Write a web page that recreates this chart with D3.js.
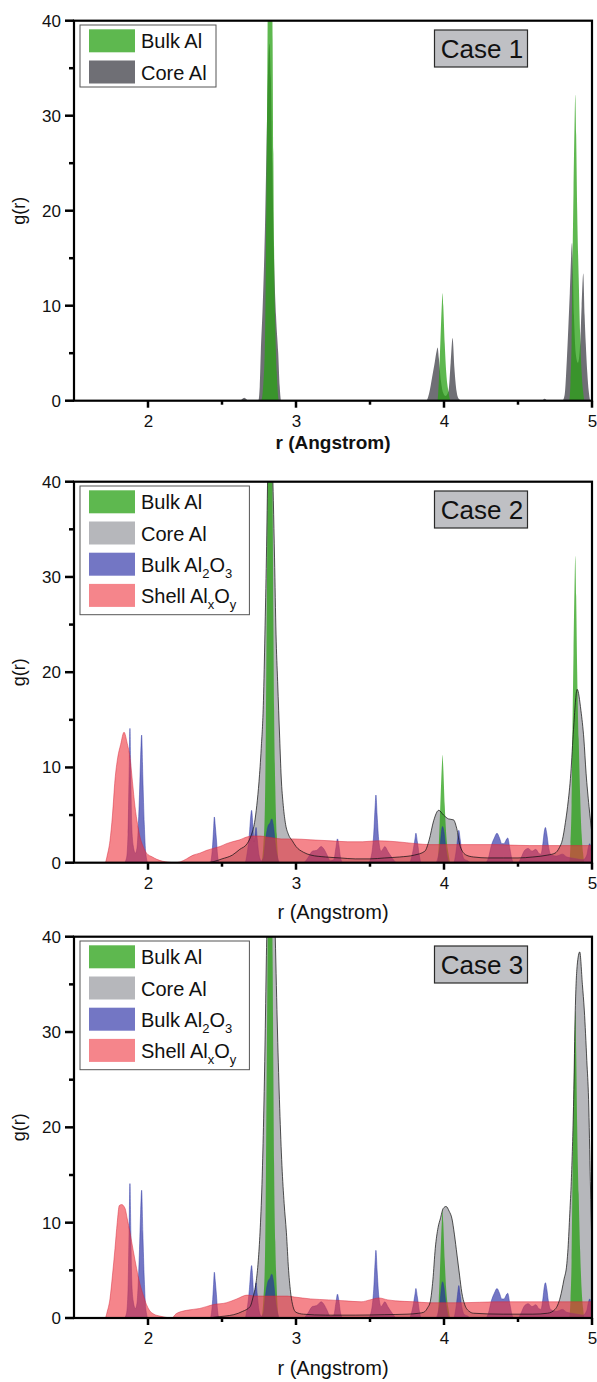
<!DOCTYPE html>
<html><head><meta charset="utf-8">
<script src="https://cdn.jsdelivr.net/npm/d3@7"></script>
<style>
html,body{margin:0;padding:0;background:#fff;}
svg{display:block;font-family:"Liberation Sans",Arial,Helvetica,sans-serif;}
</style></head><body>
<svg id="chart" width="597" height="1382"></svg>
<script>
// ---------------- data ----------------
const xDomain = [1.5, 5];
const yDomain = [0, 40];
const xTicks = [2, 3, 4, 5];
const xMinorTicks = [2.5, 3.5, 4.5];
const yTicks = [0, 10, 20, 30, 40];
const yMinorTicks = [5, 15, 25, 35];
const caseLabels = ["Case 1", "Case 2", "Case 3"];
const xTitle = "r (Angstrom)";
const yTitle = "g(r)";
const legendLabels = [
  [["Bulk Al", 0]],
  [["Core Al", 0]],
  [["Bulk Al", 0], ["2", 1], ["O", 0], ["3", 1]],
  [["Shell Al", 0], ["x", 1], ["O", 0], ["y", 1]]
];

// Bulk Al (same reference in all three cases)
const bulkAl = [[1.5,0],[2.765,0],[2.78,2],[2.79,6],[2.795,12],[2.8,22],[2.805,32],[2.81,44],[2.816,55],[2.822,60],[2.83,55],[2.836,46],[2.842,38],[2.847,26],[2.852,16],[2.86,8],[2.87,3],[2.885,0],
  [3.955,0],[3.965,2],[3.975,6],[3.985,10],[3.99,11.3],[3.995,10],[4.005,6],[4.015,3],[4.03,1],[4.045,0],
  [4.845,0],[4.855,2],[4.862,6],[4.868,14],[4.875,22],[4.882,29],[4.887,32.2],[4.893,28],[4.9,20],[4.91,13],[4.92,7],[4.93,3],[4.94,1],[4.95,0],[5,0]];

// Core Al, case 1
const coreAl1 = [[1.5,0],[2.62,0],[2.65,0.3],[2.68,0],[2.745,0],[2.755,1.5],[2.762,5],[2.775,10],[2.79,18],[2.8,26],[2.81,34],[2.82,37.6],[2.83,34],[2.84,25],[2.85,16],[2.865,9],[2.88,5],[2.89,1.5],[2.9,0],
  [3.88,0],[3.9,0.8],[3.92,2.5],[3.935,3.8],[3.95,5.2],[3.957,5.6],[3.965,4.5],[3.98,2],[3.995,0.8],[4.01,0.5],[4.03,1],[4.045,4],[4.058,6.6],[4.07,3.5],[4.085,1],[4.1,0.2],[4.12,0],
  [4.66,0],[4.68,0.2],[4.7,0],[4.8,0],[4.815,0.6],[4.83,4.3],[4.85,11.3],[4.865,16.6],[4.878,9],[4.89,5],[4.905,4],[4.92,6],[4.93,10],[4.941,13.4],[4.95,9],[4.958,6],[4.968,3],[4.978,1],[4.99,0],[5,0]];

// Core Al, case 2
const coreAl2 = [[1.5,0],[2.4,0],[2.44,0.1],[2.5,0.4],[2.57,0.8],[2.62,1.4],[2.67,2.0],[2.7,3],[2.72,4.2],[2.735,6],[2.75,8.5],[2.765,12],[2.78,17],[2.79,24],[2.8,32],[2.81,42],[2.822,52],[2.835,45],[2.847,38],[2.855,32],[2.865,24],[2.876,19],[2.89,13],[2.9,9],[2.914,6],[2.93,4],[2.948,3],[2.975,2.3],[3.0,1.7],[3.05,1.1],[3.1,0.8],[3.2,0.6],[3.3,0.5],[3.4,0.4],[3.5,0.4],[3.6,0.5],[3.7,0.6],[3.8,0.8],[3.87,1.2],[3.9,2.4],[3.93,4.4],[3.964,5.5],[3.997,5.0],[4.03,4.6],[4.064,4.5],[4.086,3.6],[4.11,1.7],[4.15,0.8],[4.2,0.6],[4.3,0.5],[4.4,0.5],[4.5,0.5],[4.6,0.6],[4.7,0.8],[4.75,1.0],[4.78,1.6],[4.8,2.4],[4.82,4.2],[4.835,5.9],[4.857,9.4],[4.875,14],[4.9,18.2],[4.925,16],[4.945,13],[4.96,9.4],[4.98,5.9],[5.0,3]];

// Core Al, case 3
const coreAl3 = [[1.5,0],[2.4,0],[2.46,0.1],[2.52,0.2],[2.58,0.35],[2.64,0.7],[2.69,1.2],[2.71,2.2],[2.73,3.7],[2.745,6],[2.757,9],[2.77,14],[2.78,20],[2.79,28],[2.8,38],[2.815,50],[2.83,55],[2.845,50],[2.86,40],[2.875,30],[2.89,22],[2.905,16],[2.92,12],[2.935,9],[2.95,5],[2.965,2.5],[2.98,1.2],[3.0,0.6],[3.05,0.4],[3.2,0.3],[3.4,0.3],[3.6,0.35],[3.75,0.4],[3.83,0.5],[3.863,0.6],[3.89,1.1],[3.907,1.7],[3.925,4],[3.941,7.3],[3.96,9.5],[3.975,10.4],[3.995,11.5],[4.014,11.7],[4.035,11.2],[4.054,10.4],[4.07,8.8],[4.088,6.6],[4.105,4.5],[4.12,2.7],[4.14,1.4],[4.17,0.7],[4.2,0.5],[4.4,0.4],[4.6,0.4],[4.7,0.5],[4.75,0.9],[4.786,2.2],[4.81,4],[4.83,5.7],[4.838,7.3],[4.85,11],[4.86,14.3],[4.876,22.9],[4.887,32.3],[4.9,37],[4.917,38.4],[4.935,35],[4.948,32.3],[4.965,27],[4.977,22.9],[4.989,14.3],[5.0,7]];

// Bulk Al2O3 (same reference in cases 2 and 3)
const bulkAl2O3 = [[1.5,0],[1.84,0],[1.855,0.5],[1.865,3],[1.872,9],[1.878,14.1],[1.884,9],[1.89,4],[1.9,1.8],[1.915,1.0],[1.925,1.5],[1.94,6],[1.95,11],[1.957,13.4],[1.965,9],[1.975,4],[1.985,1],[2.0,0],
  [2.42,0],[2.435,1.5],[2.443,3.5],[2.448,4.8],[2.455,3.8],[2.462,2.5],[2.47,0.8],[2.48,0],
  [2.655,0],[2.67,1],[2.685,3],[2.695,5.0],[2.7,5.5],[2.708,4],[2.715,2.2],[2.722,2.8],[2.73,3.7],[2.738,2.5],[2.75,0.8],[2.765,0.2],[2.78,0.5],[2.795,2.5],[2.81,3.8],[2.825,4.2],[2.836,4.6],[2.848,3.8],[2.86,2.0],[2.875,0.6],[2.89,0],
  [3.05,0],[3.08,0.5],[3.11,1.2],[3.14,1.3],[3.17,1.7],[3.19,1.4],[3.21,0.8],[3.23,0.2],[3.255,0.3],[3.27,1.6],[3.28,2.5],[3.29,1.8],[3.3,0.6],[3.315,0],
  [3.49,0],[3.51,0.8],[3.525,3],[3.535,6],[3.54,7.1],[3.548,5],[3.56,2.2],[3.575,1.2],[3.59,1.5],[3.6,1.7],[3.62,1.2],[3.65,0.5],[3.68,0],
  [3.765,0],[3.79,1.2],[3.805,2.6],[3.81,3.1],[3.82,2.2],[3.835,0.6],[3.845,0],
  [3.945,0],[3.96,0.6],[3.975,2.0],[3.985,3.5],[3.99,3.8],[4.0,3.2],[4.012,1.6],[4.025,0.4],[4.035,0],
  [4.065,0],[4.08,1.0],[4.092,2.5],[4.1,3.4],[4.108,2.6],[4.12,1.2],[4.135,0.4],[4.16,0.2],[4.18,0],
  [4.28,0],[4.3,0.5],[4.32,1.8],[4.34,2.6],[4.358,3.1],[4.375,2.6],[4.39,2.0],[4.405,2.0],[4.43,2.6],[4.445,1.5],[4.46,0.3],[4.47,0],
  [4.5,0],[4.52,0.5],[4.545,1.3],[4.57,1.5],[4.595,1.2],[4.62,1.4],[4.64,1.0],[4.655,0.9],[4.668,2.0],[4.678,3.3],[4.685,3.7],[4.695,3.0],[4.705,1.8],[4.72,0.9],[4.76,0.7],[4.8,0.9],[4.83,0.6],[4.86,0.5],[4.9,0.4],[4.94,0.3],[4.965,0.8],[4.975,1.6],[4.985,2.0],[4.995,1.3],[5.0,1.0]];

// Shell AlxOy, case 2
const shell2 = [[1.5,0],[1.71,0],[1.725,0.8],[1.743,2.3],[1.76,5],[1.777,8.7],[1.795,11],[1.815,12.4],[1.838,13.7],[1.86,12.5],[1.878,11.1],[1.895,8.5],[1.912,5.9],[1.93,4],[1.946,2.7],[1.97,1.6],[1.99,1.0],[2.03,0.6],[2.06,0.35],[2.1,0.15],[2.14,0.05],[2.18,0],[2.22,0.1],[2.26,0.4],[2.306,0.8],[2.35,1.0],[2.397,1.3],[2.44,1.5],[2.486,1.7],[2.53,2.0],[2.57,2.2],[2.62,2.4],[2.667,2.7],[2.71,2.8],[2.757,2.8],[2.8,2.7],[2.847,2.6],[2.9,2.5],[2.98,2.5],[3.1,2.4],[3.23,2.3],[3.35,2.2],[3.45,2.2],[3.55,2.3],[3.68,2.2],[3.81,2.0],[3.9,1.9],[4.0,1.9],[4.13,1.9],[4.25,1.9],[4.35,1.9],[4.45,1.85],[4.58,1.8],[4.7,1.8],[4.8,1.8],[4.9,1.8],[5.0,1.8]];

// Shell AlxOy, case 3
const shell3 = [[1.5,0],[1.71,0],[1.725,0.7],[1.743,2.0],[1.76,4.5],[1.777,7.3],[1.792,10],[1.806,11.8],[1.822,11.9],[1.845,11.5],[1.86,10.4],[1.878,9.0],[1.9,7.1],[1.923,5.2],[1.945,3.6],[1.968,2.4],[1.99,1.4],[2.01,0.8],[2.04,0.4],[2.08,0.2],[2.13,0.05],[2.16,0],[2.19,0.45],[2.26,0.8],[2.35,1.0],[2.44,1.4],[2.53,1.6],[2.6,2.0],[2.67,2.4],[2.72,2.3],[2.76,2.3],[2.85,2.3],[2.94,2.3],[2.99,2.2],[3.1,2.0],[3.22,1.9],[3.33,1.8],[3.44,1.7],[3.5,1.9],[3.56,2.1],[3.62,1.9],[3.67,1.8],[3.8,1.7],[3.9,1.6],[4.13,1.6],[4.35,1.7],[4.58,1.7],[4.8,1.7],[5.0,1.7]];

// ---------------- drawing ----------------
const svg = d3.select("#chart");
const defs = svg.append("defs");
const X0 = 74, X1 = 592;
const INK = "#000";

const STY = {
  green: {fill: "rgb(40,160,20)", op: 0.75, stroke: null},
  core1: {fill: "#6f6f75", op: 1, stroke: null},
  core:  {fill: "#b6b7bb", op: 1, stroke: null},
  blue:  {fill: "rgb(40,45,165)", op: 0.65, stroke: "rgb(45,55,165)"},
  red:   {fill: "rgb(238,52,62)", op: 0.6, stroke: "rgb(215,40,58)"}
};

const panels = [
  {top: 20.7, bottom: 400.7, core: coreAl1, coreSty: STY.core1, outline: false, blue: null, red: null,
   legend: [0, 1], legendW: 136, legendH: 62, label: caseLabels[0], bold: true, titleDy: 48.5, titleSize: 19},
  {top: 481.7, bottom: 862.7, core: coreAl2, coreSty: STY.core, outline: true, blue: bulkAl2O3, red: shell2,
   legend: [0, 1, 2, 3], legendW: 169.4, legendH: 128.7, label: caseLabels[1], bold: false, titleDy: 56, titleSize: 20},
  {top: 936.7, bottom: 1318, core: coreAl3, coreSty: STY.core, outline: true, blue: bulkAl2O3, red: shell3,
   legend: [0, 1, 2, 3], legendW: 169.4, legendH: 128.7, label: caseLabels[2], bold: false, titleDy: 56.5, titleSize: 20}
];

panels.forEach((p, i) => {
  const x = d3.scaleLinear().domain(xDomain).range([X0, X1]);
  const y = d3.scaleLinear().domain(yDomain).range([p.bottom, p.top]);
  const g = svg.append("g");
  const clipId = "clip" + i;
  defs.append("clipPath").attr("id", clipId).append("rect")
    .attr("x", X0).attr("y", p.top).attr("width", X1 - X0).attr("height", p.bottom - p.top);

  const area = d3.area().x(d => x(d[0])).y0(y(0)).y1(d => y(d[1])).curve(d3.curveMonotoneX);
  const line = d3.line().x(d => x(d[0])).y(d => y(d[1])).curve(d3.curveMonotoneX);
  const plot = g.append("g").attr("clip-path", `url(#${clipId})`);

  const drawArea = (data, s) => {
    const path = plot.append("path").datum(data).attr("d", area)
      .attr("fill", s.fill).attr("fill-opacity", s.op);
    if (s.stroke) path.attr("stroke", s.stroke).attr("stroke-width", 0.6).attr("stroke-opacity", 0.8);
  };
  drawArea(p.core, p.coreSty);
  drawArea(bulkAl, STY.green);
  if (p.blue) drawArea(p.blue, STY.blue);
  if (p.red) drawArea(p.red, STY.red);
  if (p.outline) {
    plot.append("path").datum(p.core).attr("d", line).attr("fill", "none")
      .attr("stroke", "#111").attr("stroke-width", 0.8).attr("stroke-opacity", 0.9);
  }

  // axis labels via d3 axes (lines drawn explicitly below)
  const styleAxis = sel => {
    sel.attr("font-family", null).attr("font-size", null);
    sel.select(".domain").remove();
    sel.selectAll(".tick line").remove();
    sel.selectAll("text").attr("fill", "#111").attr("font-size", 17);
  };
  const xAxis = d3.axisBottom(x).tickValues(xTicks).tickSize(6).tickSizeOuter(0).tickPadding(8).tickFormat(d3.format("d"));
  const yAxis = d3.axisLeft(y).tickValues(yTicks).tickSize(8).tickSizeOuter(0).tickPadding(5).tickFormat(d3.format("d"));
  g.append("g").attr("transform", `translate(0,${p.bottom})`).call(xAxis).call(styleAxis);
  g.append("g").attr("transform", `translate(${X0},0)`).call(yAxis).call(styleAxis);

  // tick marks from the tick arrays through the scales
  const tg = g.append("g").attr("stroke", INK).attr("stroke-width", 2.5);
  xTicks.forEach(v => tg.append("line").attr("x1", x(v)).attr("x2", x(v)).attr("y1", p.bottom).attr("y2", p.bottom + 7));
  xMinorTicks.forEach(v => tg.append("line").attr("x1", x(v)).attr("x2", x(v)).attr("y1", p.bottom).attr("y2", p.bottom + 4));
  yTicks.forEach(v => tg.append("line").attr("x1", X0 - 9).attr("x2", X0).attr("y1", y(v)).attr("y2", y(v)));
  yMinorTicks.forEach(v => tg.append("line").attr("x1", X0 - 5).attr("x2", X0).attr("y1", y(v)).attr("y2", y(v)));

  // frame (full box)
  g.append("rect").attr("x", X0).attr("y", p.top).attr("width", X1 - X0).attr("height", p.bottom - p.top)
    .attr("fill", "none").attr("stroke", INK).attr("stroke-width", 2.2);

  // axis titles
  g.append("text").attr("x", (X0 + X1) / 2).attr("y", p.bottom + p.titleDy)
    .attr("text-anchor", "middle").attr("font-size", p.titleSize)
    .attr("font-weight", p.bold ? "bold" : "normal").attr("fill", "#111").text(xTitle);
  g.append("text").attr("transform", `translate(25,${(p.top + p.bottom) / 2}) rotate(-90)`)
    .attr("text-anchor", "middle").attr("font-size", 18).attr("fill", "#111").text(yTitle);

  // legend
  const sers = [STY.green, p.coreSty, STY.blue, STY.red];
  const lg = g.append("g");
  lg.append("rect").attr("x", 80).attr("y", p.top + 4.3).attr("width", p.legendW).attr("height", p.legendH)
    .attr("fill", "#fff").attr("stroke", "#555").attr("stroke-width", 1);
  p.legend.forEach((k, j) => {
    const ry = p.top + 8.6 + j * 31.2;
    const s = sers[k];
    lg.append("rect").attr("x", 89).attr("y", ry).attr("width", 46).attr("height", 23)
      .attr("fill", s.fill).attr("fill-opacity", s.op);
    const t = lg.append("text").attr("x", 141).attr("y", ry + 19).attr("font-size", 20).attr("fill", "#111");
    let shifted = false;
    legendLabels[k].forEach(([txt, sub]) => {
      const ts = t.append("tspan").text(txt);
      if (sub && !shifted) { ts.attr("dy", 6).attr("font-size", 13); shifted = true; }
      else if (sub) { ts.attr("font-size", 13); }
      else if (!sub && shifted) { ts.attr("dy", -6); shifted = false; }
    });
  });

  // case label
  g.append("rect").attr("x", 434.5).attr("y", p.top + 9.3).attr("width", 93).attr("height", 37)
    .attr("fill", "#bfc0c4").attr("stroke", "#2a2a2a").attr("stroke-width", 1.2);
  g.append("text").attr("x", 482).attr("y", p.top + 37).attr("text-anchor", "middle")
    .attr("font-size", 26).attr("fill", "#111").text(p.label);
});
</script>
</body></html>
